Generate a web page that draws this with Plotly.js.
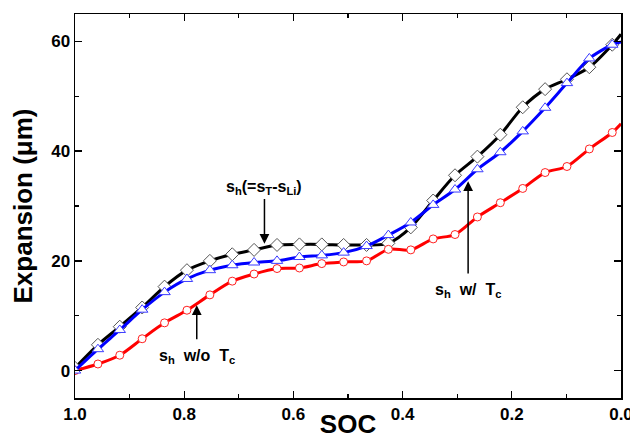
<!DOCTYPE html>
<html>
<head>
<meta charset="utf-8">
<script src="https://cdn.plot.ly/plotly-3.0.1.min.js"></script>
<style>html,body{margin:0;padding:0;background:#fff;}#chart{width:630px;height:439px;}</style>
</head>
<body>
<div id="chart"></div>
<script>
// SOC positions (marker points, last entry = curve end without marker)
const soc = [1.0, 0.958, 0.918, 0.877, 0.836, 0.795, 0.753, 0.712, 0.672, 0.630, 0.589, 0.548, 0.508, 0.466, 0.426, 0.385, 0.344, 0.304, 0.263, 0.221, 0.180, 0.139, 0.099, 0.058, 0.016, 0.0];
// s_h (= s_T - s_Li), black diamonds
const shTotal = [0.5, 4.7, 8.0, 11.5, 15.3, 18.3, 20.0, 21.2, 22.0, 22.9, 23.0, 23.0, 22.9, 22.9, 23.2, 26.1, 31.0, 35.6, 39.0, 43.0, 48.0, 51.3, 53.1, 55.3, 59.4, 61.3];
// s_h w/ Tc, blue triangles
const shWithTc = [0.0, 3.9, 7.4, 11.1, 14.3, 16.7, 18.3, 19.2, 19.7, 20.0, 20.7, 21.0, 21.5, 22.7, 24.7, 27.0, 30.2, 33.0, 36.7, 39.8, 43.6, 47.9, 52.4, 56.9, 59.4, 59.9];
// s_h w/o Tc, red circles
const shWithoutTc = [0.0, 1.2, 2.8, 5.8, 8.7, 11.0, 13.8, 16.3, 17.6, 18.6, 18.7, 19.5, 19.8, 20.0, 22.1, 22.0, 24.0, 24.8, 28.0, 30.6, 33.2, 36.1, 37.2, 40.4, 43.4, 45.0];

const xTicks = [1.0, 0.8, 0.6, 0.4, 0.2, 0.0];
const xTickText = ['1.0', '0.8', '0.6', '0.4', '0.2', '0.0'];
const yTicks = [0, 20, 40, 60];

const lastIdx = soc.length - 1;
const markOpacity = soc.map((v, i) => i === lastIdx ? 0 : 1);

function series(y, color, sym, msize, mline) {
  return {
    x: soc, y: y, type: 'scatter', mode: 'lines+markers',
    line: {color: color, width: 3, shape: 'spline', smoothing: 0.8},
    marker: {symbol: sym, size: msize, color: '#ffffff', opacity: markOpacity,
             line: {color: mline, width: 1}},
    showlegend: false, hoverinfo: 'skip'
  };
}

const traces = [
  series(shTotal, '#000000', 'diamond', 10, '#555555'),
  series(shWithoutTc, '#ff0000', 'circle', 8, '#ff2020'),
  series(shWithTc, '#0000ff', 'triangle-up', 10, '#3b3bff')
];

const FAM = 'Liberation Sans, Arial, sans-serif';
const tfont = {family: FAM, size: 17, color: '#000', weight: 'bold'};
const afont = {family: FAM, size: 16, color: '#000', weight: 'bold'};

// annotation: text centred at (x, yText), arrow pointing to (x, yTip)
function note(x, yTip, yText, txt, gap) {
  return {x: x, y: yTip, ax: x, ay: yText, xref: 'x', yref: 'y', axref: 'x', ayref: 'y',
          text: txt, font: afont, showarrow: true, arrowhead: 2, arrowsize: 1.3,
          arrowwidth: 1.5, arrowcolor: '#000', startstandoff: gap};
}

const layout = {
  width: 630, height: 439,
  margin: {l: 75, r: 9, t: 14, b: 41, pad: 0},
  paper_bgcolor: '#ffffff', plot_bgcolor: '#ffffff',
  xaxis: {
    range: [1.0, 0.0], tickvals: xTicks, ticktext: xTickText,
    ticks: 'inside', ticklen: 7, tickwidth: 1.3, tickcolor: '#000',
    minor: {dtick: 0.1, tick0: 0, ticks: 'inside', ticklen: 4, tickwidth: 1.3, tickcolor: '#000'},
    showline: true, linecolor: '#000', linewidth: 1.5, mirror: 'ticks',
    showgrid: false, zeroline: false, automargin: false, ticklabeloverflow: 'allow',
    tickfont: tfont,
    title: {text: 'SOC', font: {family: FAM, size: 26, color: '#000', weight: 'bold'}, standoff: 4}
  },
  yaxis: {
    range: [-5, 65], tickvals: yTicks,
    ticks: 'inside', ticklen: 7, tickwidth: 1.3, tickcolor: '#000',
    minor: {dtick: 10, tick0: 0, ticks: 'inside', ticklen: 4, tickwidth: 1.3, tickcolor: '#000'},
    showline: true, linecolor: '#000', linewidth: 1.5, mirror: 'ticks',
    showgrid: false, zeroline: false, automargin: false,
    tickfont: tfont,
    title: {text: 'Expansion (μm)', font: {family: FAM, size: 26, color: '#000', weight: 'bold'}, standoff: 11}
  },
  annotations: [
    note(0.653, 23.1, 33.3, 's<sub>h</sub>(=s<sub>T</sub>-s<sub>Li</sub>)', 0),
    note(0.777, 11.9, 2.6, 's<sub>h</sub>  w/o  T<sub>c</sub>', 6),
    note(0.280, 34.5, 14.6, 's<sub>h</sub>  w/  T<sub>c</sub>', 6)
  ]
};

Plotly.newPlot('chart', traces, layout, {displayModeBar: false, staticPlot: true});
</script>
</body>
</html>
